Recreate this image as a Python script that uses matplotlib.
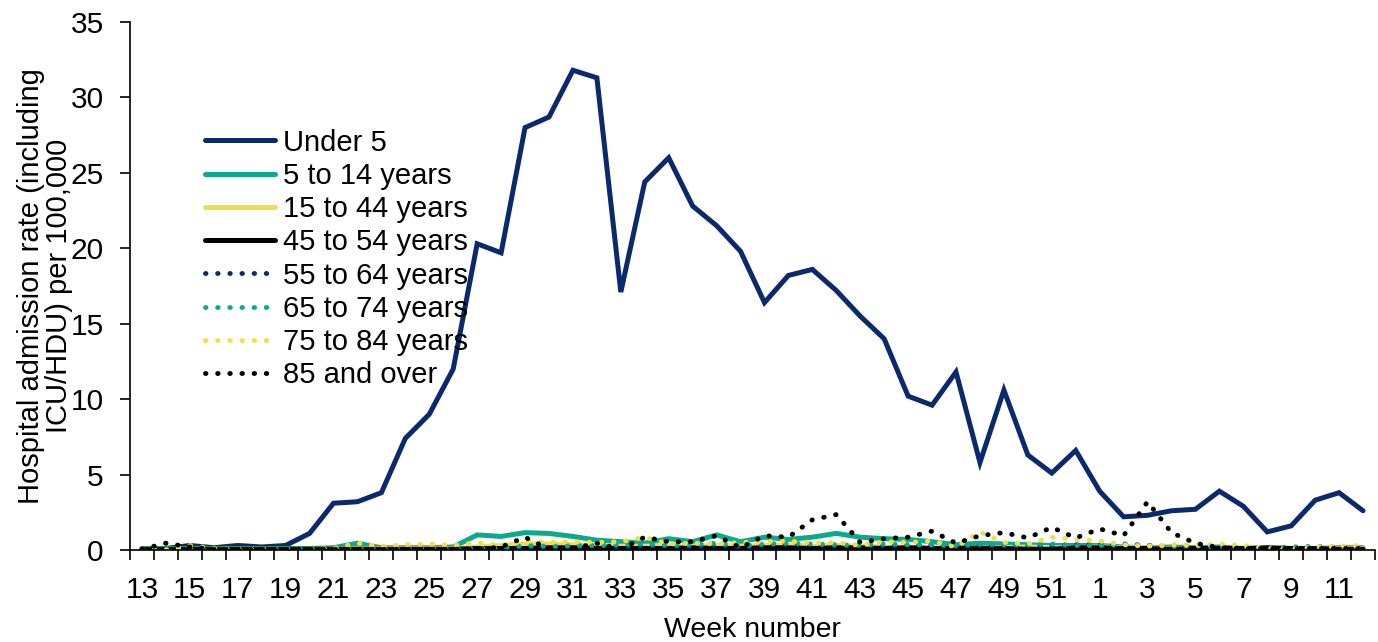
import numpy as np
import matplotlib
matplotlib.use("Agg")
import matplotlib.pyplot as plt

plt.rcParams['font.family'] = ['Liberation Sans', 'DejaVu Sans']

# weeks 13..52 then 1..12
weeks = list(range(13, 53)) + list(range(1, 13))

under5 = [0.1, 0.1, 0.3, 0.15, 0.3, 0.2, 0.3,
          1.1, 3.1, 3.2, 3.8, 7.4, 9.0, 12.0, 20.3, 19.7, 28.0,
          28.7, 31.8, 31.3, 17.1, 24.4, 26.0, 22.8, 21.5, 19.8, 16.4,
          18.2, 18.6, 17.2, 15.5, 14.0, 10.2, 9.6, 11.8, 5.8, 10.6,
          6.3, 5.1, 6.6,
          3.9, 2.2, 2.3, 2.6, 2.7, 3.9, 2.9, 1.2, 1.6, 3.3, 3.8, 2.6]
age5_14 = [0.1, 0.1, 0.1, 0.1, 0.1, 0.1, 0.1, 0.1,
           0.15, 0.45, 0.15, 0.15, 0.15, 0.2, 1.0, 0.9,
           1.15, 1.1, 0.9, 0.65, 0.55, 0.45, 0.75, 0.55,
           1.0, 0.55, 0.85, 0.7, 0.85, 1.1, 0.85, 0.75,
           0.7, 0.55, 0.35, 0.45, 0.4, 0.35, 0.3, 0.3,
           0.3, 0.2, 0.15, 0.2, 0.15, 0.2, 0.1, 0.1, 0.1, 0.1, 0.15, 0.15]
age15_44 = [0.05, 0.05, 0.05, 0.05, 0.05, 0.05, 0.05, 0.05,
            0.05, 0.1, 0.1, 0.1, 0.1, 0.1, 0.2, 0.3,
            0.4, 0.4, 0.35, 0.3, 0.25, 0.25, 0.3, 0.25,
            0.3, 0.25, 0.3, 0.3, 0.25, 0.3, 0.25, 0.2,
            0.2, 0.15, 0.05, 0.1, 0.15, 0.2, 0.15, 0.15,
            0.2, 0.15, 0.15, 0.1, 0.1, 0.1, 0.1, 0.1, 0.1, 0.1, 0.1, 0.1]
age45_54 = [0.05, 0.05, 0.05, 0.05, 0.05, 0.05, 0.05, 0.05,
            0.05, 0.05, 0.05, 0.05, 0.05, 0.05, 0.1, 0.1,
            0.1, 0.15, 0.15, 0.1, 0.1, 0.1, 0.1, 0.15,
            0.1, 0.1, 0.15, 0.15, 0.1, 0.15, 0.15, 0.1,
            0.15, 0.1, 0.1, 0.1, 0.1, 0.05, 0.05, 0.15,
            0.15, 0.1, 0.1, 0.05, 0.1, 0.1, 0.1, 0.15, 0.1, 0.1, 0.05, 0.05]
age55_64 = [0.05, 0.05, 0.05, 0.05, 0.05, 0.05, 0.05, 0.05,
            0.05, 0.05, 0.05, 0.05, 0.05, 0.05, 0.1, 0.1,
            0.15, 0.2, 0.15, 0.3, 0.2, 0.25, 0.3, 0.15,
            0.35, 0.1, 0.3, 0.4, 0.35, 0.25, 0.3, 0.25,
            0.35, 0.3, 0.2, 0.3, 0.25, 0.3, 0.3, 0.35,
            0.35, 0.4, 0.3, 0.2, 0.15, 0.2, 0.15, 0.1, 0.1, 0.15, 0.1, 0.1]
age65_74 = [0.05, 0.05, 0.05, 0.05, 0.05, 0.05, 0.05, 0.05,
            0.05, 0.1, 0.05, 0.05, 0.05, 0.1, 0.1, 0.15,
            0.3, 0.25, 0.3, 0.3, 0.35, 0.4, 0.3, 0.35,
            0.45, 0.25, 0.4, 0.45, 0.4, 0.35, 0.3, 0.4,
            0.35, 0.35, 0.3, 0.4, 0.35, 0.35, 0.4, 0.3,
            0.3, 0.35, 0.3, 0.25, 0.3, 0.2, 0.2, 0.15, 0.2, 0.25, 0.2, 0.2]
age75_84 = [0.05, 0.0, 0.3, 0.1, 0.05, 0.05, 0.05,
            0.05, 0.1, 0.45, 0.25, 0.35, 0.4, 0.3,
            0.5, 0.3, 0.6, 0.5, 0.55, 0.5,
            0.55, 0.85, 0.4, 0.45, 0.4, 0.5, 0.55,
            0.6, 0.45, 0.5, 0.3, 0.55, 0.5, 0.6,
            0.2, 1.2, 0.5, 0.4, 0.85, 0.7,
            0.6, 0.35, 0.25, 0.35, 0.3, 0.4, 0.3, 0.1, 0.05, 0.2, 0.25, 0.3]
age85 = [0.05, 0.45, 0.2, 0.05, 0.05, 0.05, 0.05, 0.05,
         0.05, 0.05, 0.05, 0.05, 0.05, 0.05, 0.05, 0.2,
         0.85, 0.05, 0.1, 0.45, 0.05, 0.85, 0.55, 0.55,
         0.95, 0.15, 0.95, 0.85, 2.0, 2.35, 0.5, 0.75,
         0.85, 1.25, 0.45, 0.95, 1.15, 0.8, 1.5, 0.8,
         1.4, 0.95, 3.2, 1.15, 0.45, 0.15, 0.1, 0.1, 0.1, 0.1, 0.1, 0.1]

labels = ["Under 5", "5 to 14 years", "15 to 44 years", "45 to 54 years",
          "55 to 64 years", "65 to 74 years", "75 to 84 years", "85 and over"]
series = [under5, age5_14, age15_44, age45_54, age55_64, age65_74, age75_84, age85]

navy = '#0b2a6e'
teal = '#0aab8c'
yellow = '#f2df48'
black = '#000000'
colors = [navy, teal, yellow, black, navy, teal, yellow, black]
dotted = [False] * 4 + [True] * 4

fig = plt.figure(figsize=(13.78, 6.42), dpi=100)
ax = fig.add_axes([130 / 1378, 92 / 642, 1245 / 1378, 528 / 642])

x = np.arange(len(weeks))
for vals, lab, col, dot in zip(series, labels, colors, dotted):
    if dot:
        ax.plot(x, vals, color=col, lw=3.5, linestyle=(0, (0.1, 2.4)),
                dash_capstyle='round', label=lab)
    else:
        ax.plot(x, vals, color=col, lw=3.6, solid_joinstyle='miter',
                solid_capstyle='round', label=lab)

ax.set_xlim(-0.5, len(weeks) - 0.5)
ax.set_ylim(0, 35)
ax.set_yticks(np.arange(0, 36, 5))
ax.tick_params(axis='y', labelsize=21.5, length=7, width=1.2, pad=12)

# ticks between categories, labels on every second category
ax.set_xticks(np.arange(-0.5, len(weeks), 1))
ax.set_xticklabels([])
ax.tick_params(axis='x', which='major', length=7, width=1.2)
ax.set_xticks(x[::2], minor=True)
ax.set_xticklabels([str(w) for w in weeks[::2]], minor=True)
ax.tick_params(axis='x', which='minor', length=0, pad=19, labelsize=21.5)

for s in ['top', 'right']:
    ax.spines[s].set_visible(False)
for s in ['left', 'bottom']:
    ax.spines[s].set_linewidth(1.2)

ax.set_xlabel("Week number", fontsize=20.5, labelpad=9)
ax.set_ylabel("Hospital admission rate (including\nICU/HDU) per 100,000",
              fontsize=21, linespacing=1.0)
ax.yaxis.set_label_coords(-0.046, 0.5)

ax.legend(loc='upper left', bbox_to_anchor=(0.06, 0.798), frameon=False,
          fontsize=21, handlelength=2.4, handletextpad=0.3, labelspacing=0.18,
          borderpad=0, borderaxespad=0)

fig.savefig("out.png", dpi=100)
